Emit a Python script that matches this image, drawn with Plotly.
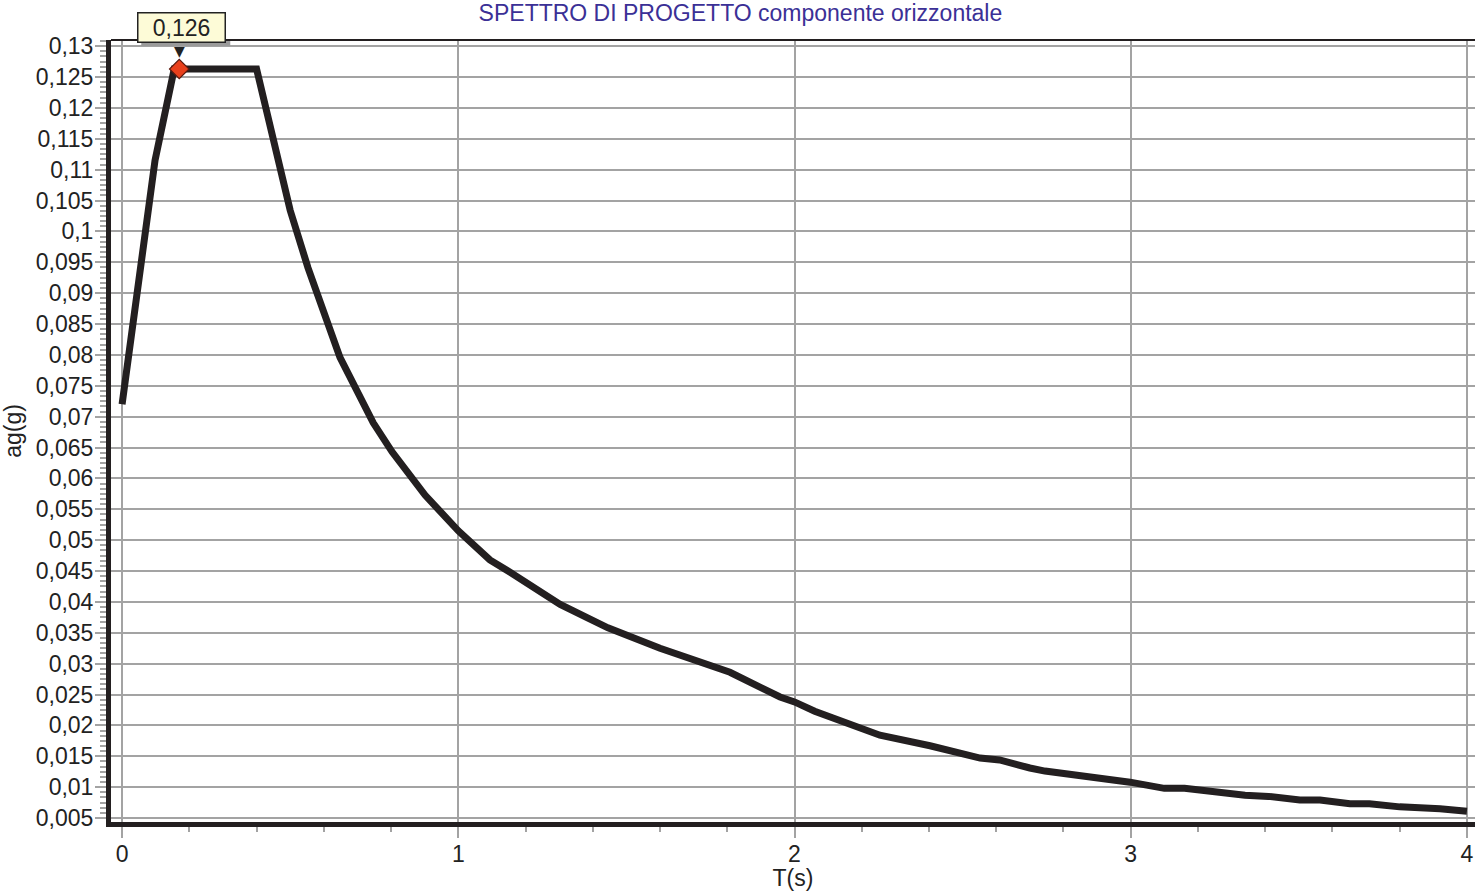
import plotly.graph_objects as go

# Data
T = [0.0, 0.098, 0.155, 0.40, 0.50, 0.553, 0.648, 0.699, 0.747, 0.803, 0.901, 1.0,
     1.094, 1.154, 1.303, 1.392, 1.445, 1.60, 1.749, 1.808, 1.957, 2.0, 2.06, 2.149,
     2.204, 2.254, 2.403, 2.552, 2.61, 2.67, 2.70, 2.745, 2.909, 2.998, 3.10, 3.16,
     3.34, 3.41, 3.503, 3.563, 3.652, 3.71, 3.80, 3.86, 3.92, 4.0]
SA = [0.0720, 0.1115, 0.1263, 0.1263, 0.1034, 0.0941, 0.0796, 0.0740, 0.0690, 0.0643,
      0.0573, 0.0515, 0.0468, 0.0448, 0.0396, 0.0372, 0.0358, 0.0325, 0.0295, 0.0286,
      0.0246, 0.0238, 0.0223, 0.0205, 0.0196, 0.0184, 0.0167, 0.0147, 0.0144, 0.0134,
      0.0131, 0.0126, 0.0116, 0.0108, 0.0098, 0.0098, 0.0087, 0.0085, 0.0079, 0.0079,
      0.0073, 0.0073, 0.0068, 0.0067, 0.0065, 0.0061]
PEAK_T = [0.17]
PEAK_V = [0.1263]
PEAK_LABEL = "0,126"
TITLE = "SPETTRO DI PROGETTO componente orizzontale"
X_TITLE = "T(s)"
Y_TITLE = "ag(g)"

FONT = "Liberation Sans, Arial, sans-serif"
FS = 23
GRID = "#a3a3a3"
INK = "#222222"

fig = go.Figure()
fig.add_trace(go.Scatter(
    x=T, y=SA, mode="lines",
    line=dict(color="#231f20", width=7, shape="linear"),
    hoverinfo="skip", showlegend=False,
))
fig.add_trace(go.Scatter(
    x=PEAK_T, y=PEAK_V, mode="markers",
    marker=dict(symbol="diamond", size=15, color="#e8401c",
                line=dict(color="#5a1a10", width=1.2)),
    hoverinfo="skip", showlegend=False,
))

# shadow of the value box (pixel-sized, anchored at the peak point)
fig.add_shape(type="rect", xref="x", yref="y", xsizemode="pixel", ysizemode="pixel",
              xanchor=PEAK_T[0], yanchor=PEAK_V[0], x0=-38, x1=51, y0=23, y1=53,
              fillcolor="#9a9a9a", line=dict(width=0), layer="above")
fig.add_annotation(x=PEAK_T[0], y=PEAK_V[0], xref="x", yref="y", text=PEAK_LABEL,
                   showarrow=False, xshift=2, yshift=42, width=84, height=26,
                   bgcolor="#fdfbd7", bordercolor=INK, borderwidth=1.5,
                   font=dict(family=FONT, size=FS, color=INK))
fig.add_annotation(x=PEAK_T[0], y=PEAK_V[0], xref="x", yref="y", text="▼",
                   showarrow=False, yshift=18,
                   font=dict(family="DejaVu Sans", size=14, color=INK))

fig.add_shape(type="line", xref="paper", yref="paper", x0=0, x1=1, y0=1, y1=1,
              line=dict(color="#231f20", width=2), layer="above")

fig.update_layout(
    width=1475, height=891,
    margin=dict(l=111, r=0, t=40, b=69),
    paper_bgcolor="white", plot_bgcolor="white",
    separators=",.",
    font=dict(family=FONT, size=FS, color=INK),
    title=dict(text=TITLE, x=0.502, xanchor="center", y=0.9854, yanchor="middle",
               font=dict(family=FONT, size=FS, color="#3b3096")),
    showlegend=False,
)
fig.update_xaxes(
    range=[-0.033, 4.024], dtick=1, tick0=0,
    showgrid=True, gridcolor=GRID, gridwidth=2, zeroline=False,
    showline=True, linecolor="#231f20", linewidth=5,
    ticks="outside", ticklen=11, tickwidth=2, tickcolor=GRID,
    ticklabelstandoff=-4,
    minor=dict(dtick=0.2, ticks="outside", ticklen=5, tickwidth=2, tickcolor=GRID, showgrid=False),
    tickfont=dict(family=FONT, size=FS, color=INK),
    title=dict(text=X_TITLE, standoff=2, font=dict(family=FONT, size=FS, color=INK)),
    automargin=False,
)
fig.update_yaxes(
    range=[0.00435, 0.131], dtick=0.005, tick0=0,
    showgrid=True, gridcolor=GRID, gridwidth=2, zeroline=False,
    showline=True, linecolor="#231f20", linewidth=5,
    ticks="outside", ticklen=11, tickwidth=2, tickcolor=GRID,
    ticklabelstandoff=-3,
    minor=dict(dtick=0.005 / 6, ticks="outside", ticklen=6, tickwidth=2, tickcolor=GRID, showgrid=False),
    tickfont=dict(family=FONT, size=FS, color=INK),
    title=dict(text=Y_TITLE, standoff=10, font=dict(family=FONT, size=FS, color=INK)),
    automargin=False,
)

fig.write_html(
    "out.html",
    config={"displayModeBar": False},
    post_script="document.body.style.margin='0';document.body.style.overflow='hidden';",
)
